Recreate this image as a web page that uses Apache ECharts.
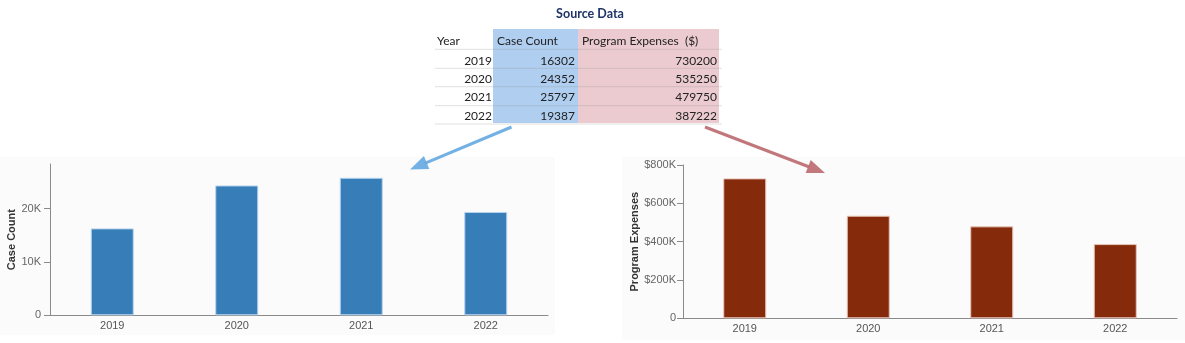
<!DOCTYPE html>
<html>
<head>
<meta charset="utf-8">
<script src="https://cdn.jsdelivr.net/npm/echarts@6/dist/echarts.min.js"></script>
<style>
html,body{margin:0;padding:0;background:#fff;}
#c{width:1185px;height:343px;}
</style>
</head>
<body>
<div id="c"></div>
<script>
const years = ['2019', '2020', '2021', '2022'];
const caseCount = [16302, 24352, 25797, 19387];
const expenses = [730200, 535250, 479750, 387222];
const caseTicks = [0, 10000, 20000];
const expenseTicks = [0, 200000, 400000, 600000, 800000];
const tableHeaders = ['Year', 'Case Count', 'Program Expenses  ($)'];

const chart = echarts.init(document.getElementById('c'));
const AX = '#8a8a8a';
const FONT = 'Liberation Sans, Arial, sans-serif';
const TFONT = 'Lato, Liberation Sans, sans-serif';

function arrow(x1, y1, x2, y2, color) {
  const dx = x2 - x1, dy = y2 - y1, L = Math.sqrt(dx * dx + dy * dy);
  const ux = dx / L, uy = dy / L, px = -uy, py = ux;
  const hl = 18, hw = 7;
  const bx = x2 - ux * hl, by = y2 - uy * hl;
  return [
    { type: 'line', z: 20, shape: { x1: x1, y1: y1, x2: bx + ux * 2, y2: by + uy * 2 }, style: { stroke: color, lineWidth: 3 } },
    { type: 'polygon', z: 20, shape: { points: [[x2, y2], [bx + px * hw, by + py * hw], [bx - px * hw, by - py * hw]] }, style: { fill: color } }
  ];
}

const graphics = [];
// panel backgrounds
graphics.push({ type: 'rect', z: -10, shape: { x: 0, y: 157, width: 555, height: 178 }, style: { fill: '#fbfbfb' } });
graphics.push({ type: 'rect', z: -10, shape: { x: 622, y: 157, width: 563, height: 183 }, style: { fill: '#fbfbfb' } });

// table
graphics.push({ type: 'text', style: { text: 'Source Data', x: 590, y: 14, align: 'center', verticalAlign: 'middle', font: 'bold 12.5px ' + TFONT, fill: '#1f3566' } });
graphics.push({ type: 'rect', shape: { x: 493, y: 29, width: 85, height: 94 }, style: { fill: 'rgba(110,165,228,0.55)' } });
graphics.push({ type: 'rect', shape: { x: 578, y: 29, width: 141, height: 94 }, style: { fill: 'rgba(210,140,148,0.45)' } });
const rowY = [60.7, 79, 97.3, 116];
const lineY = [49.3, 68.3, 86.7, 105.7, 124];
lineY.forEach(function (y) {
  graphics.push({ type: 'line', shape: { x1: 435, y1: y, x2: 722, y2: y }, style: { stroke: 'rgba(150,150,150,0.3)', lineWidth: 1 } });
});
const tstyle = { font: '12px ' + TFONT, fill: '#222', verticalAlign: 'middle' };
graphics.push({ type: 'text', style: Object.assign({}, tstyle, { text: tableHeaders[0], x: 437, y: 41, align: 'left' }) });
graphics.push({ type: 'text', style: Object.assign({}, tstyle, { text: tableHeaders[1], x: 497, y: 41, align: 'left' }) });
graphics.push({ type: 'text', style: Object.assign({}, tstyle, { text: tableHeaders[2], x: 582, y: 41, align: 'left' }) });
years.forEach(function (yr, i) {
  graphics.push({ type: 'text', style: Object.assign({}, tstyle, { text: yr, x: 492, y: rowY[i], align: 'right' }) });
  graphics.push({ type: 'text', style: Object.assign({}, tstyle, { text: String(caseCount[i]), x: 575, y: rowY[i], align: 'right' }) });
  graphics.push({ type: 'text', style: Object.assign({}, tstyle, { text: String(expenses[i]), x: 717, y: rowY[i], align: 'right' }) });
});
// arrows
arrow(511.5, 127, 410, 169.5, 'rgba(100,168,226,0.9)').forEach(function (g) { graphics.push(g); });
arrow(705, 127, 825, 173, 'rgba(190,112,116,0.95)').forEach(function (g) { graphics.push(g); });

function xAx(gi) {
  return {
    type: 'category', gridIndex: gi, data: years,
    axisLine: { lineStyle: { color: AX, width: 1 } },
    axisTick: { alignWithLabel: true, length: 5, lineStyle: { color: AX } },
    axisLabel: { color: '#555', fontSize: 11, fontFamily: FONT, margin: 5 }
  };
}

chart.setOption({
  animation: false,
  backgroundColor: '#ffffff',
  grid: [
    { left: 50, top: 164, width: 498, height: 151.3 },
    { left: 683, top: 165, width: 494, height: 153.3 }
  ],
  xAxis: [xAx(0), xAx(1)],
  yAxis: [
    {
      type: 'value', gridIndex: 0, min: 0, max: Math.max.apply(null, caseCount) * 1.1,
      splitLine: { show: false },
      axisLine: { show: true, lineStyle: { color: AX } },
      axisTick: { show: true, length: 6, lineStyle: { color: AX }, customValues: caseTicks },
      axisLabel: { color: '#666', fontSize: 11, fontFamily: FONT, margin: 9, customValues: caseTicks,
        formatter: function (v) { return v === 0 ? '0' : (v / 1000) + 'K'; } },
      name: 'Case Count', nameLocation: 'middle', nameGap: 32,
      nameTextStyle: { color: '#333', fontSize: 11, fontWeight: 'bold', fontFamily: FONT }
    },
    {
      type: 'value', gridIndex: 1, min: 0, max: 800000, interval: 200000,
      splitLine: { show: false },
      axisLine: { show: true, lineStyle: { color: AX } },
      axisTick: { show: true, length: 6, lineStyle: { color: AX }, customValues: expenseTicks },
      axisLabel: { color: '#666', fontSize: 11, fontFamily: FONT, margin: 7, customValues: expenseTicks,
        formatter: function (v) { return v === 0 ? '0' : '$' + (v / 1000) + 'K'; } },
      name: 'Program Expenses', nameLocation: 'middle', nameGap: 39,
      nameTextStyle: { color: '#333', fontSize: 11, fontWeight: 'bold', fontFamily: FONT }
    }
  ],
  series: [
    { type: 'bar', xAxisIndex: 0, yAxisIndex: 0, data: caseCount, barWidth: 43,
      itemStyle: { color: '#377db8', borderColor: '#b9d5ef', borderWidth: 1 } },
    { type: 'bar', xAxisIndex: 1, yAxisIndex: 1, data: expenses, barWidth: 43,
      itemStyle: { color: '#852a0b', borderColor: '#eac4b8', borderWidth: 1 } }
  ],
  graphic: graphics
});
</script>
</body>
</html>
